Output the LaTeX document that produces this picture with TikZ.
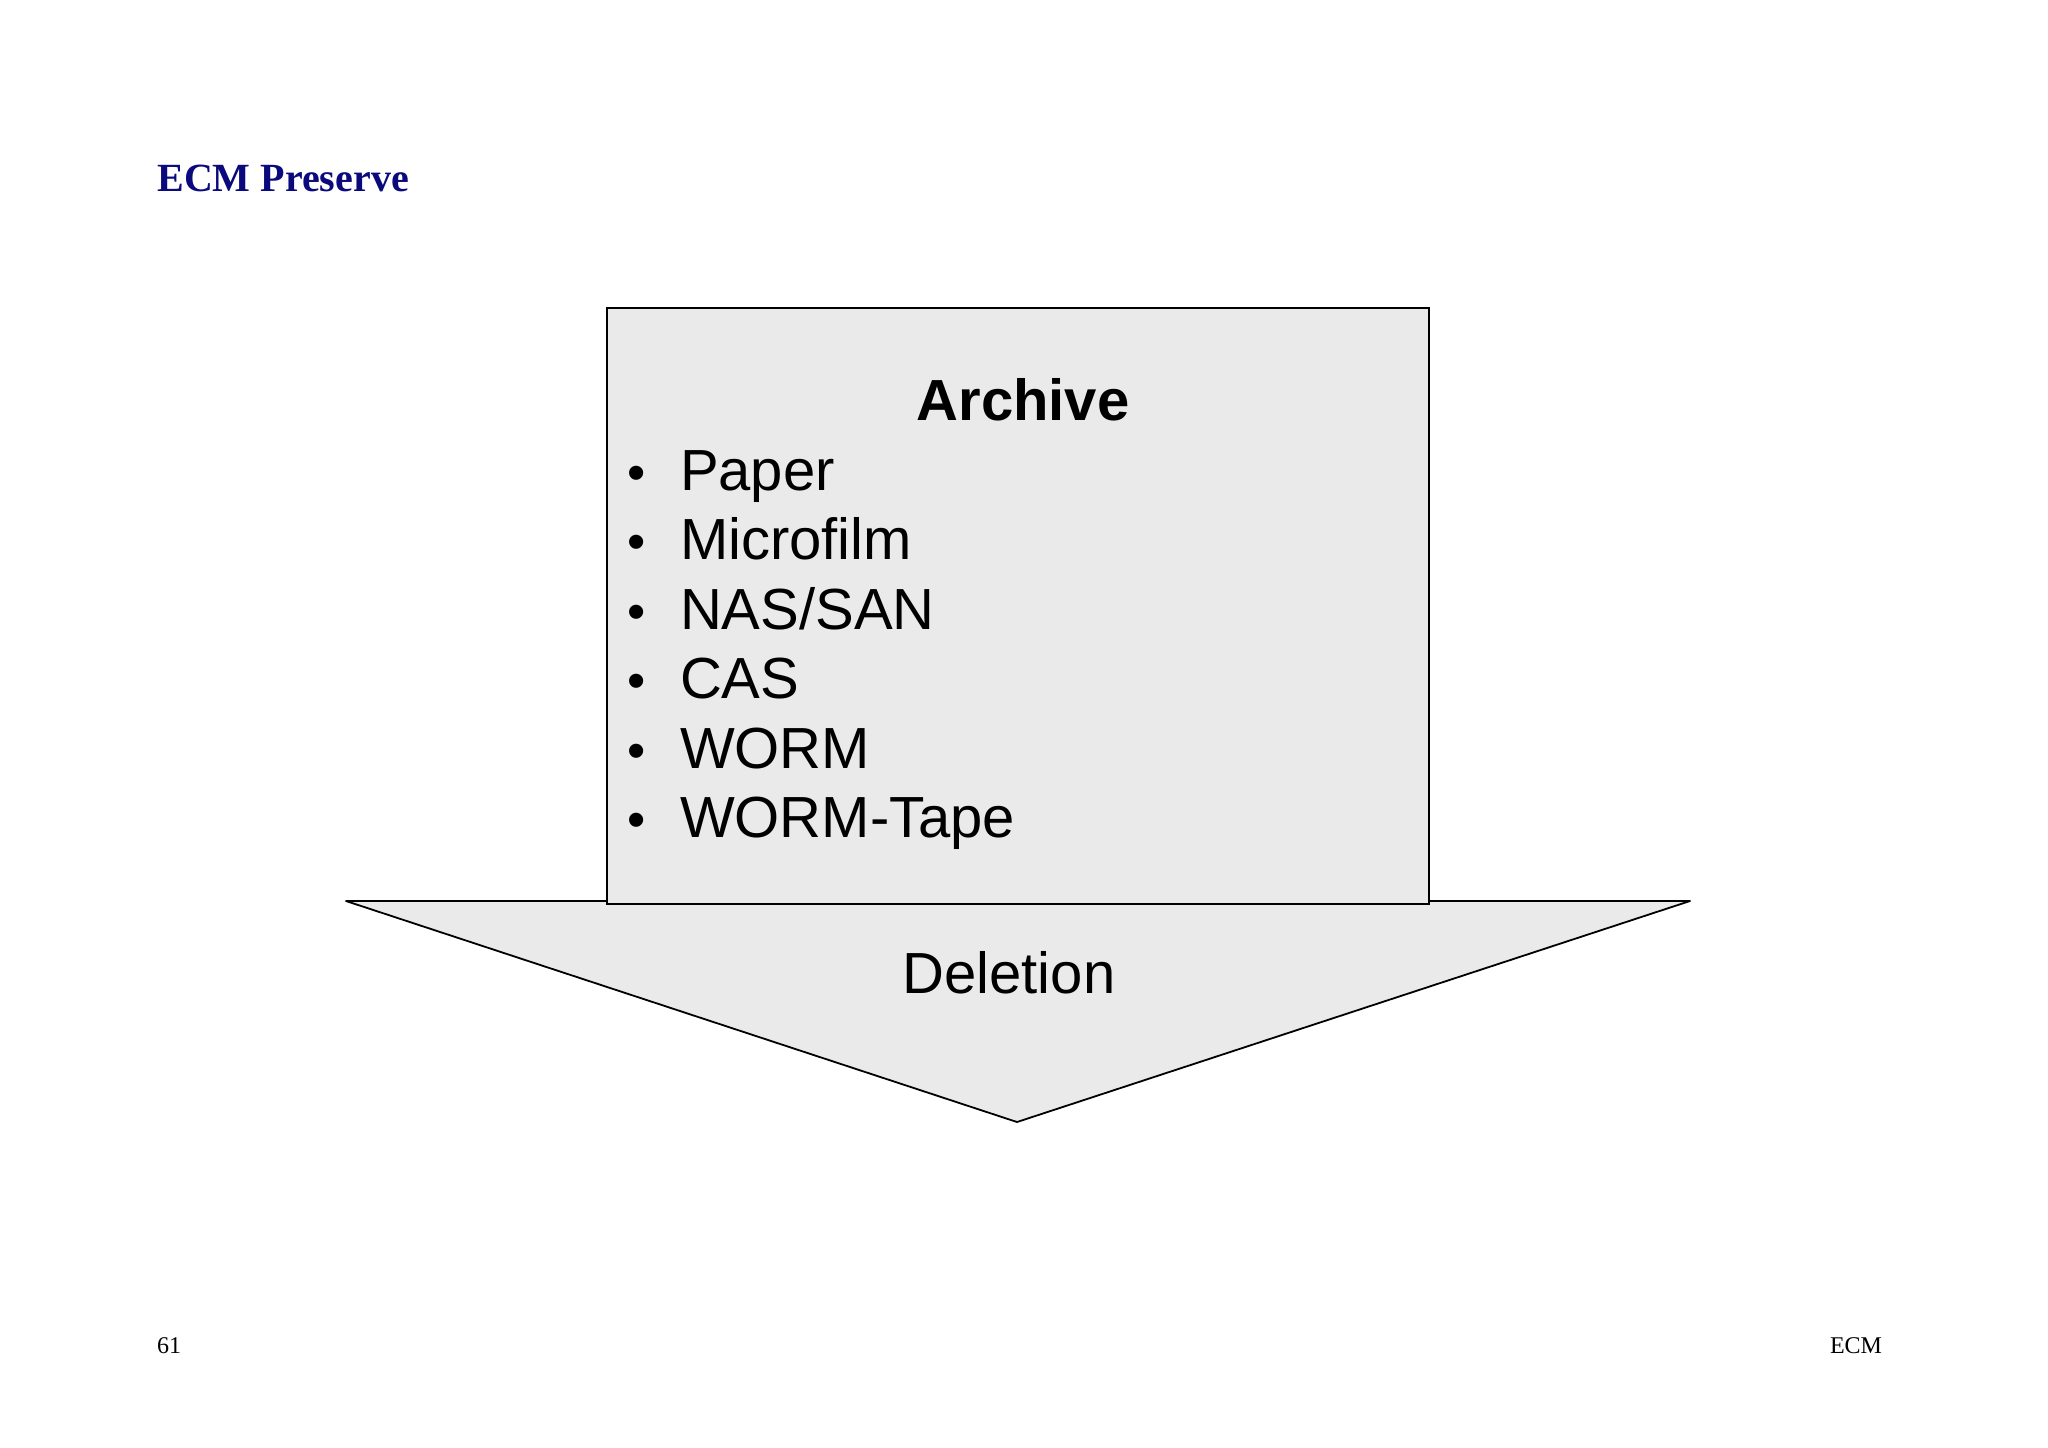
\documentclass[tikz,border=0pt]{standalone}
\usepackage{fontspec}
\setmainfont{Liberation Serif}
\newfontfamily\arialfont{Liberation Sans}
\definecolor{titlenavy}{RGB}{10,10,125}
\definecolor{boxgray}{RGB}{234,234,234}
\begin{document}
\begin{tikzpicture}[x=0.5pt,y=-0.5pt,
  shapeline/.style={draw=black,line width=0.9pt,fill=boxgray,line join=round},
  txt/.style={inner sep=0pt,outer sep=0pt,font=\arialfont\fontsize{29}{34}\selectfont},
  pagetxt/.style={inner sep=0pt,outer sep=0pt,font=\fontsize{12}{14}\selectfont}]
\useasboundingbox (0,0) rectangle (2048,1447);
% arrow head
\coordinate (tl) at (346,901);
\coordinate (tr) at (1690,901);
\coordinate (tip) at (1017,1122);
\draw[shapeline] (tl) -- (tr) -- (tip) -- cycle;
% archive box
\node (box) [shapeline,line join=miter,rectangle,minimum width=411pt,minimum height=298pt,inner sep=0pt] at (1018,606) {};
% title
\node (title) [anchor=base west,inner sep=0pt,text=titlenavy,font=\bfseries\fontsize{20}{24}\selectfont] at (157,191) {ECM Preserve};
% box heading
\node (arch) [txt,anchor=base,font=\arialfont\bfseries\fontsize{29}{34}\selectfont] at (1023,420) {Archive};
% bullets
\foreach \i/\t in {0/Paper,1/Microfilm,2/{NAS/SAN},3/CAS,4/WORM,5/WORM-Tape}{
  \node (b\i) [txt,anchor=base,font=\arialfont\fontsize{26}{34}\selectfont] at (637,{490+69.5*\i}) {•};
  \node (it\i) [txt,anchor=base west] at (680,{490+69.5*\i}) {\t};
}
% deletion
\node (del) [txt,anchor=base] at (1009,993) {Deletion};
% footer
\node (pg) [pagetxt,anchor=base west] at (157,1353) {61};
\node (foot) [pagetxt,anchor=base east] at (1882,1353) {ECM};
\end{tikzpicture}
\end{document}
